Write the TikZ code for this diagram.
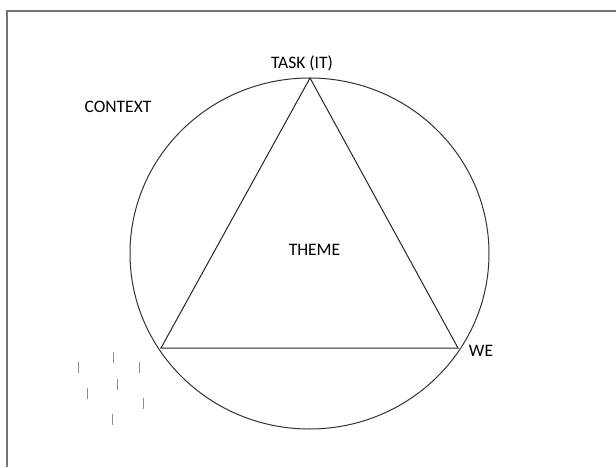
\documentclass[tikz,border=0pt]{standalone}
\usepackage{fontspec}
\setmainfont{Carlito}

\tikzset{
  label text/.style={anchor=base, inner sep=0pt, font=\fontsize{17.5}{20}\selectfont},
  frame line/.style={draw=black!55, line width=1.3pt},
  tick mark/.style={draw=black!45, line width=0.9pt}
}

\begin{document}
\begin{tikzpicture}[x=1pt,y=1pt]

\useasboundingbox (0,0) rectangle (616,467);

% Frame
\draw[frame line] (7,0) -- (7,456) -- (616,456);

% Circle
\draw[black!80, line width=1pt] (309.5,213.5) ellipse (179.5 and 175.5);

% Corners of the triangle
\coordinate (task) at (310,389);
\coordinate (left) at (161,119);
\coordinate (we) at (458,119);

% Triangle
\draw[black!85, line width=1pt, line join=miter] (task) -- (left) -- (we) -- cycle;

% Labels
\node[label text] (tasklabel) at (302,398) {TASK (IT)};
\node[label text] (context) at (118,354.3) {CONTEXT};
\node[label text] (theme) at (314.5,212) {THEME};
\node[label text] (welabel) at (481,110.3) {WE};

% Ticks
\foreach \x/\y in {113/110,78/100,139/100,117/83,87/74,143/64,112/48}
  \draw[tick mark] (\x,\y-5.5) -- (\x,\y+5.5);

\end{tikzpicture}
\end{document}
